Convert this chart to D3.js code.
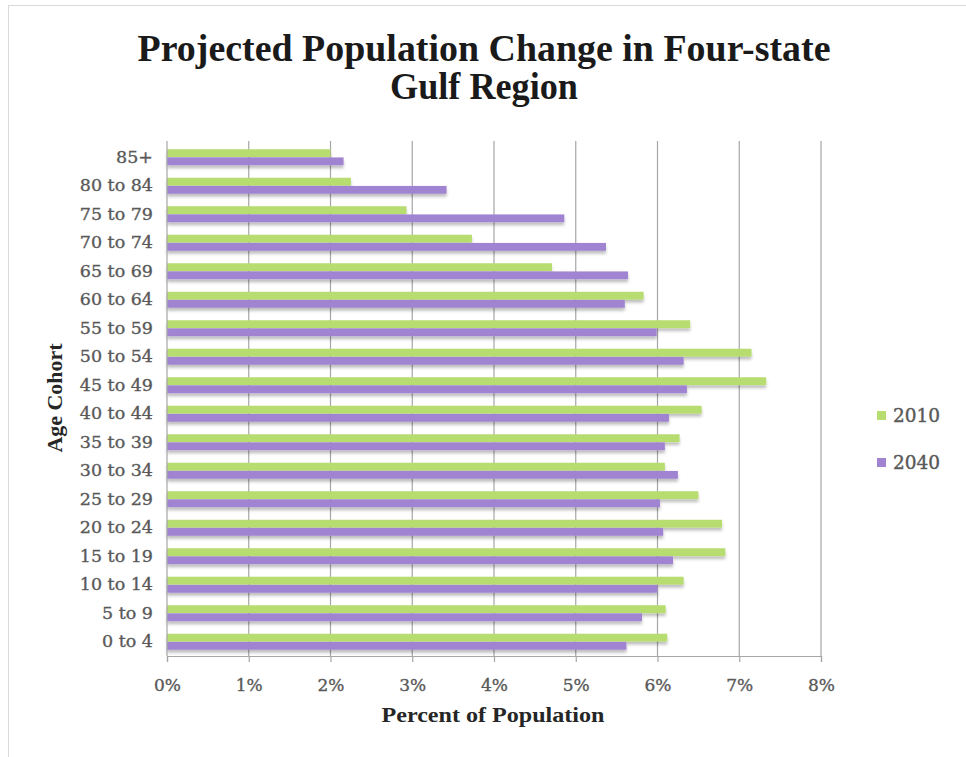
<!DOCTYPE html>
<html><head><meta charset="utf-8">
<script src="https://cdn.jsdelivr.net/npm/d3@7/dist/d3.min.js"></script>
<style>body{margin:0;background:#fff;} svg{display:block;}</style>
</head><body>
<svg id="c" width="966" height="757"></svg>
<script>
const categories = ["85+","80 to 84","75 to 79","70 to 74","65 to 69","60 to 64","55 to 59","50 to 54","45 to 49","40 to 44","35 to 39","30 to 34","25 to 29","20 to 24","15 to 19","10 to 14","5 to 9","0 to 4"];
const series2010 = [2.0,2.25,2.93,3.73,4.71,5.83,6.4,7.15,7.33,6.54,6.27,6.09,6.5,6.79,6.83,6.32,6.1,6.12];
const series2040 = [2.16,3.42,4.86,5.37,5.64,5.6,5.99,6.32,6.36,6.14,6.09,6.25,6.03,6.07,6.19,6.0,5.81,5.62];
const seriesNames = ["2010","2040"];
const xTicks = [0,1,2,3,4,5,6,7,8];
const titleLines = ["Projected Population Change in Four-state","Gulf Region"];

const colors = {"2010":"#b7dc6f","2040":"#a084d2"};
const serif = "'DejaVu Serif', 'Liberation Serif', serif";
const svg = d3.select("#c");
const defs = svg.append("defs");
const f = defs.append("filter").attr("id","sh").attr("x","-5%").attr("y","-50%").attr("width","110%").attr("height","250%");
f.append("feDropShadow").attr("dx",0).attr("dy",3).attr("stdDeviation",1.5).attr("flood-color","#000").attr("flood-opacity",0.25);

// frame
svg.append("rect").attr("x",8.5).attr("y",5.5).attr("width",980).attr("height",780)
  .attr("fill","none").attr("stroke","#d9d9d9");

const L=167, R=821, T=143, B=656;
const x = d3.scaleLinear().domain([0,8]).range([L,R]);
const y = d3.scaleBand().domain(categories).range([T,B]);
const yi = d3.scaleBand().domain(seriesNames).range([y.bandwidth()/2-8, y.bandwidth()/2+8]).paddingInner(0.04);

// gridlines
svg.append("g").selectAll("line").data(xTicks.slice(1)).join("line")
  .attr("x1",d=>x(d)).attr("x2",d=>x(d)).attr("y1",T-2).attr("y2",B)
  .attr("stroke","#a6a6a6").attr("stroke-width",1.2);

// bars
const rows = categories.map((c,i)=>({c, vals:[{s:"2010",v:series2010[i]},{s:"2040",v:series2040[i]}]}));
const g = svg.append("g").attr("filter","url(#sh)");
rows.forEach(r=>{
  g.selectAll(null).data(r.vals).join("rect")
    .attr("x",x(0)).attr("y",d=>y(r.c)+yi(d.s)).attr("height",yi.bandwidth())
    .attr("width",d=>x(d.v)-x(0)).attr("fill",d=>colors[d.s]);
});

// x axis
const xa = svg.append("g").attr("transform",`translate(0,${B})`)
  .call(d3.axisBottom(x).tickValues(xTicks).tickFormat(d=>d+"%").tickSize(6).tickPadding(17));
xa.select(".domain").attr("stroke","#a6a6a6").attr("stroke-width",1.2);
xa.selectAll(".tick line").attr("stroke","#a6a6a6").attr("stroke-width",1.2);
xa.selectAll("text").attr("font-family",serif).attr("font-size",17).attr("fill","#595959")
  .attr("stroke","#595959").attr("stroke-width",0.35);

// y axis
const ya = svg.append("g").attr("transform",`translate(${L},0)`)
  .call(d3.axisLeft(y).tickSize(0).tickPadding(14));
ya.select(".domain").attr("stroke","#a6a6a6").attr("stroke-width",1.2).attr("d",`M0,${T-2}V${B}`);
ya.selectAll("text").attr("font-family",serif).attr("font-size",17.5).attr("fill","#595959")
  .attr("stroke","#595959").attr("stroke-width",0.35);

// titles
svg.append("g").selectAll("text").data(titleLines).join("text")
  .attr("x",484).attr("y",(d,i)=>61+i*38).attr("text-anchor","middle")
  .attr("font-family","'Liberation Serif', serif").attr("font-weight","bold").attr("font-size",37)
  .attr("fill","#1a1a1a")
  .attr("textLength",(d,i)=>i===0?693:188).attr("lengthAdjust","spacingAndGlyphs")
  .text(d=>d);

svg.append("text").attr("x",493).attr("y",722).attr("text-anchor","middle")
  .attr("font-family","'Liberation Serif', serif").attr("font-weight","bold").attr("font-size",20)
  .attr("fill","#262626").attr("textLength",223).attr("lengthAdjust","spacingAndGlyphs")
  .text("Percent of Population");
svg.append("text").attr("transform","translate(62,398) rotate(-90)").attr("text-anchor","middle")
  .attr("font-family","'Liberation Serif', serif").attr("font-weight","bold").attr("font-size",20)
  .attr("fill","#262626").attr("textLength",109).attr("lengthAdjust","spacingAndGlyphs")
  .text("Age Cohort");

// legend
const lg = svg.append("g").selectAll("g").data(seriesNames).join("g")
  .attr("transform",(d,i)=>`translate(877,${411+i*47})`);
lg.append("rect").attr("width",9).attr("height",9).attr("fill",d=>colors[d]);
lg.append("text").attr("x",16).attr("y",11).attr("font-family",serif).attr("font-size",18.5)
  .attr("fill","#595959").attr("stroke","#595959").attr("stroke-width",0.4).text(d=>d);
</script>
</body></html>
